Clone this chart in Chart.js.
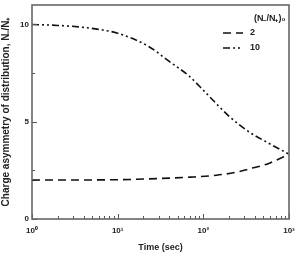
<!DOCTYPE html>
<html>
<head>
<meta charset="utf-8">
<script src="https://cdn.jsdelivr.net/npm/chart.js@4/dist/chart.umd.min.js"></script>
<style>
  html, body { margin: 0; padding: 0; background: #fff; }
  #wrap { width: 299px; height: 253px; }
</style>
</head>
<body>
<div id="wrap"><canvas id="canvas" width="299" height="253"></canvas></div>
<script>
// data
var seriesLabels = ['2', '10'];
var time2 = [1, 10, 30, 70, 142, 250, 346, 550, 1000];
var ratio2 = [2.0, 2.02, 2.08, 2.15, 2.25, 2.42, 2.58, 2.82, 3.33];
var time10 = [1, 2, 4, 7, 10, 23, 40, 69, 103, 200, 346, 550, 1000];
var ratio10 = [10, 9.95, 9.85, 9.7, 9.55, 8.87, 8.1, 7.33, 6.56, 5.28, 4.46, 3.95, 3.33];
var xMajor = [1, 10, 100, 1000];
var xTickText = ['10\u2070', '10\u00b9', '10\u00b2', '10\u00b3'];
var yMajor = [0, 5, 10];
var legendTitle = '(N\u208b/N\u208a)\u2080';
var xTitle = 'Time (sec)';
var yTitle = 'Charge asymmetry of distribution, N\u208b/N\u208a';

function pts(xs, ys) {
    var out = [];
    for (var i = 0; i < xs.length; i++) out.push({x: xs[i], y: ys[i]});
    return out;
}

var FONT = 'Liberation Sans, Arial, sans-serif';
var DASHES = [[8, 5], [7, 3, 2, 3, 2, 3]];

// ticks drawn inside the frame, plus frame and legend
var framePlugin = {
    id: 'framePlugin',
    afterDatasetsDraw: function (chart) {
        var ctx = chart.ctx, a = chart.chartArea;
        var xs = chart.scales.x, ys = chart.scales.y;
        ctx.save();
        ctx.strokeStyle = '#555';
        ctx.lineWidth = 1;
        xs.ticks.forEach(function (t) {
            var px = Math.round(xs.getPixelForValue(t.value)) + 0.5;
            var len = xMajor.indexOf(t.value) >= 0 ? 5 : 3;
            ctx.beginPath();
            ctx.moveTo(px, a.bottom); ctx.lineTo(px, a.bottom - len);
            ctx.stroke();
        });
        ys.ticks.forEach(function (t) {
            var py = Math.round(ys.getPixelForValue(t.value)) + 0.5;
            var len = yMajor.indexOf(t.value) >= 0 ? 5 : 3;
            ctx.beginPath();
            ctx.moveTo(a.left, py); ctx.lineTo(a.left + len, py);
            ctx.stroke();
        });
        ctx.lineWidth = 1.6;
        ctx.strokeStyle = '#666';
        ctx.strokeRect(a.left, a.top, a.right - a.left, a.bottom - a.top);

        // legend
        ctx.fillStyle = '#222';
        ctx.font = 'bold 9px ' + FONT;
        ctx.textBaseline = 'middle';
        ctx.textAlign = 'left';
        ctx.fillText(legendTitle, 254, 19);
        chart.data.datasets.forEach(function (ds, i) {
            var y = 33 + i * 15;
            ctx.strokeStyle = '#111';
            ctx.lineWidth = 1.6;
            ctx.setLineDash(ds.borderDash);
            ctx.beginPath();
            ctx.moveTo(223, y); ctx.lineTo(243, y);
            ctx.stroke();
            ctx.setLineDash([]);
            ctx.fillText(ds.label, 250, y);
        });
        ctx.restore();
    }
};

var ctx = document.getElementById('canvas').getContext('2d');
window.myChart = new Chart(ctx, {
    type: 'line',
    data: {
        datasets: [{
            label: seriesLabels[0],
            data: pts(time2, ratio2),
            borderColor: '#111',
            borderWidth: 1.6,
            borderDash: DASHES[0],
            pointRadius: 0,
            cubicInterpolationMode: 'monotone',
            fill: false
        }, {
            label: seriesLabels[1],
            data: pts(time10, ratio10),
            borderColor: '#111',
            borderWidth: 1.6,
            borderDash: DASHES[1],
            pointRadius: 0,
            cubicInterpolationMode: 'monotone',
            fill: false
        }]
    },
    options: {
        responsive: false,
        animation: false,
        layout: {padding: {top: 5, right: 10, left: 0, bottom: 0}},
        plugins: {legend: {display: false}, tooltip: {enabled: false}},
        scales: {
            x: {
                type: 'logarithmic',
                min: 1, max: 1000,
                grid: {display: false, drawTicks: false},
                border: {display: false},
                afterBuildTicks: function (scale) {
                    var t = [];
                    for (var d = 1; d < 1000; d *= 10)
                        for (var m = 1; m < 10; m++) t.push({value: m * d});
                    t.push({value: 1000});
                    scale.ticks = t;
                },
                afterFit: function (scale) {
                    scale.height = 34;
                    scale.paddingLeft = 0; scale.paddingRight = 0;
                },
                ticks: {
                    autoSkip: false,
                    maxRotation: 0,
                    padding: 7,
                    color: '#222',
                    font: {family: FONT, size: 8, weight: 'bold'},
                    callback: function (v) {
                        var i = xMajor.indexOf(v);
                        return i >= 0 ? xTickText[i] : '';
                    }
                },
                title: {
                    display: true, text: xTitle, color: '#222',
                    padding: {top: 4, bottom: 0},
                    font: {family: FONT, size: 9, weight: 'bold'}
                }
            },
            y: {
                min: 0, max: 11,
                grid: {display: false, drawTicks: false},
                border: {display: false},
                afterBuildTicks: function (scale) {
                    scale.ticks = [0, 2.5, 5, 7.5, 10].map(function (v) { return {value: v}; });
                },
                afterFit: function (scale) {
                    scale.width = 32;
                    scale.paddingTop = 0; scale.paddingBottom = 0;
                },
                ticks: {
                    padding: 3,
                    color: '#222',
                    font: {family: FONT, size: 8, weight: 'bold'},
                    callback: function (v) { return yMajor.indexOf(v) >= 0 ? String(v) : ''; }
                },
                title: {
                    display: true, text: yTitle, color: '#222',
                    padding: {top: 0, bottom: 1},
                    font: {family: FONT, size: 10, weight: 'bold'}
                }
            }
        }
    },
    plugins: [framePlugin]
});
</script>
</body>
</html>
